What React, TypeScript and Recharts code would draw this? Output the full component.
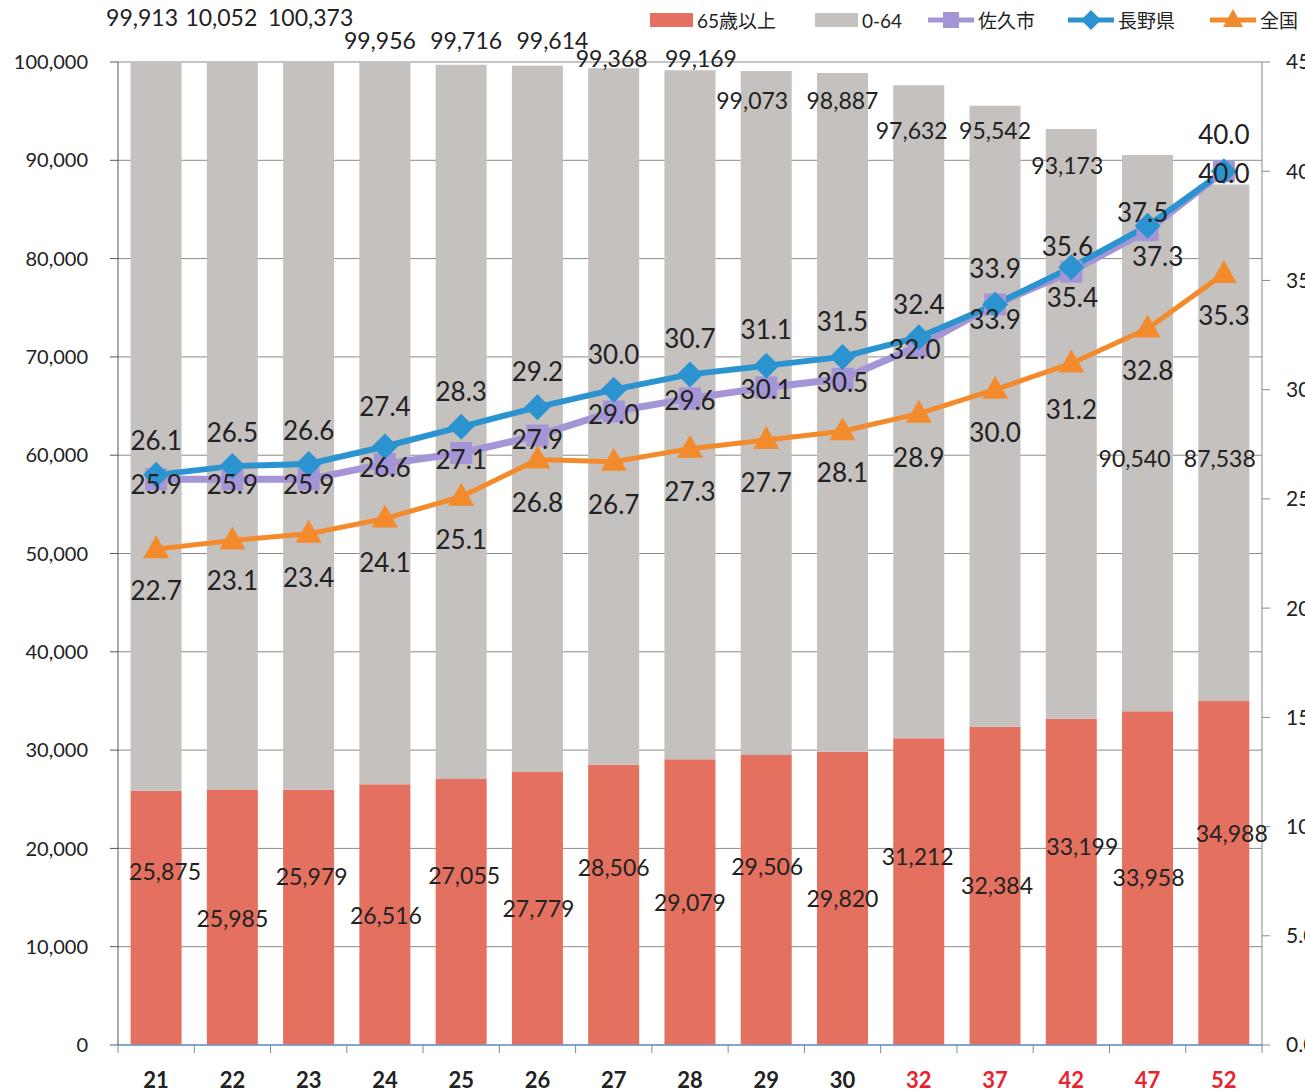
import React from "react";
import {
  ComposedChart,
  Bar,
  Line,
  XAxis,
  YAxis,
  CartesianGrid,
  LabelList,
} from "recharts";

// 年度 (H21〜H30 実績, H32〜H52 推計)
const YEARS = ["21", "22", "23", "24", "25", "26", "27", "28", "29", "30", "32", "37", "42", "47", "52"];
const PROJECTED_YEARS = ["32", "37", "42", "47", "52"];

// 人口
const POP_65_OVER = [25875, 25985, 25979, 26516, 27055, 27779, 28506, 29079, 29506, 29820, 31212, 32384, 33199, 33958, 34988];
const POP_0_64 = [74038, 74067, 74394, 73440, 72661, 71835, 70862, 70090, 69567, 69067, 66420, 63158, 59974, 56582, 52550];
// total labels as printed on the chart (22 reads "10,052" in the source)
const POP_TOTAL = [99913, 10052, 100373, 99956, 99716, 99614, 99368, 99169, 99073, 98887, 97632, 95542, 93173, 90540, 87538];

// 高齢化率 (%)
const SAKU = [25.9, 25.9, 25.9, 26.6, 27.1, 27.9, 29.0, 29.6, 30.1, 30.5, 32.0, 33.9, 35.4, 37.3, 40.0];
const NAGANO = [26.1, 26.5, 26.6, 27.4, 28.3, 29.2, 30.0, 30.7, 31.1, 31.5, 32.4, 33.9, 35.6, 37.5, 40.0];
const ZENKOKU = [22.7, 23.1, 23.4, 24.1, 25.1, 26.8, 26.7, 27.3, 27.7, 28.1, 28.9, 30.0, 31.2, 32.8, 35.3];

const LEFT_TICKS = [0, 10000, 20000, 30000, 40000, 50000, 60000, 70000, 80000, 90000, 100000];
const RIGHT_TICKS = [0, 5, 10, 15, 20, 25, 30, 35, 40, 45];

const data = YEARS.map((year, i) => ({
  year,
  over65: POP_65_OVER[i],
  under65: POP_0_64[i],
  total: POP_TOTAL[i],
  saku: SAKU[i],
  nagano: NAGANO[i],
  zenkoku: ZENKOKU[i],
}));

// colours
const RED = "#e4705f";
const GRAY = "#c4c1bf";
const PURPLE = "#a496d6";
const BLUE = "#2b93cf";
const ORANGE = "#f38b2c";
const TEXT = "#222";
const FONT = "Lato, 'Noto Sans CJK JP', sans-serif";

// label placement (hand-placed in the original)
const TOTAL_LABEL_Y = [17, 17, 17, 40, 40, 40, 58, 58, 100, 100, 130, 130, 165, 458, 458];
const TOTAL_LABEL_DX = [-14, -11, 2, -5, 5, 15, -2, 11, -14, 0, -7, 0, -4, -13, -4];
const ELDER_LABEL_Y = [871, 918, 876, 915, 875, 908, 867, 902, 866, 898, 856, 885, 846, 877, 833];
const ELDER_LABEL_DX = [9, 0, 3, 1, 3, 1, 0, 0, 1, 0, -1, 2, 11, 1, 8];
const SAKU_DY = [5, 5, 5, 3, 6, 3, 2, 2, 2, 3, 3, 15, 25, 26, 2];
const SAKU_DX = [0, 0, 0, 0, 0, 0, 0, 0, 0, 0, -4, 0, 1, 10, 0];
const NAGANO_DY = [-35, -34, -34, -40, -36, -36, -36, -36, -37, -36, -33, -36, -21, -14, -37];
const NAGANO_DX = [0, 0, 0, 0, 0, 0, 0, 0, 0, 0, 0, 0, -4, -5, 0];
const ZENKOKU_DY = [41, 40, 43, 43, 42, 42, 42, 42, 42, 41, 43, 42, 46, 41, 41];

const CHART_W = 1360;
const PLOT_LEFT = 118;
const PLOT_RIGHT = 1262;
const HALF_BAND = (PLOT_RIGHT - PLOT_LEFT) / YEARS.length / 2;

const XTick = (props: any) => {
  const { x, y, payload, index } = props;
  const red = PROJECTED_YEARS.includes(payload.value);
  return (
    <g>
      <line x1={x - HALF_BAND} x2={x - HALF_BAND} y1={y} y2={y + 8} stroke="#6c8fb3" />
      {index === YEARS.length - 1 && (
        <line x1={x + HALF_BAND} x2={x + HALF_BAND} y1={y} y2={y + 8} stroke="#6c8fb3" />
      )}
      <text
        x={x}
        y={y + 34}
        textAnchor="middle"
        dominantBaseline="central"
        fontSize={22}
        fontWeight="bold"
        fontFamily={FONT}
        fill={red ? "#e8232e" : TEXT}
      >
        {payload.value}
      </text>
    </g>
  );
};

const SquareDot = (props: any) => {
  const { cx, cy, index } = props;
  if (cx == null || cy == null) return null;
  return <rect key={`sq-${index}`} x={cx - 11} y={cy - 11} width={22} height={22} fill={PURPLE} />;
};

const DiamondDot = (props: any) => {
  const { cx, cy, index } = props;
  if (cx == null || cy == null) return null;
  return (
    <polygon
      key={`dm-${index}`}
      points={`${cx},${cy - 13} ${cx + 13},${cy} ${cx},${cy + 13} ${cx - 13},${cy}`}
      fill={BLUE}
    />
  );
};

const TriangleDot = (props: any) => {
  const { cx, cy, index } = props;
  if (cx == null || cy == null) return null;
  return (
    <polygon
      key={`tr-${index}`}
      points={`${cx},${cy - 14} ${cx + 13},${cy + 9} ${cx - 13},${cy + 9}`}
      fill={ORANGE}
    />
  );
};

const rateLabel = (dyList: number[], dxList?: number[]) => (props: any) => {
  const { x, y, value, index } = props;
  return (
    <text
      x={x + (dxList ? dxList[index] : 0)}
      y={y + dyList[index]}
      textAnchor="middle"
      dominantBaseline="central"
      fontSize={26}
      fontFamily={FONT}
      fill={TEXT}
    >
      {Number(value).toFixed(1)}
    </text>
  );
};

const elderLabel = (props: any) => {
  const { x, width, value, index } = props;
  return (
    <text
      x={x + width / 2 + ELDER_LABEL_DX[index]}
      y={ELDER_LABEL_Y[index]}
      textAnchor="middle"
      dominantBaseline="central"
      fontSize={23}
      fontFamily={FONT}
      fill={TEXT}
    >
      {Number(value).toLocaleString("en-US")}
    </text>
  );
};

const totalLabel = (props: any) => {
  const { x, width, index } = props;
  return (
    <text
      x={x + width / 2 + TOTAL_LABEL_DX[index]}
      y={TOTAL_LABEL_Y[index]}
      textAnchor="middle"
      dominantBaseline="central"
      fontSize={23}
      fontFamily={FONT}
      fill={TEXT}
    >
      {POP_TOTAL[index].toLocaleString("en-US")}
    </text>
  );
};

// legend (top right, the last item runs off the picture edge)
const LEGEND = [
  { name: "65歳以上", color: RED, kind: "box", x: 650 },
  { name: "0-64", color: GRAY, kind: "box", x: 815 },
  { name: "佐久市", color: PURPLE, kind: "square", x: 928 },
  { name: "長野県", color: BLUE, kind: "diamond", x: 1068 },
  { name: "全国", color: ORANGE, kind: "triangle", x: 1210 },
];

const Legend = () => (
  <svg width={1305} height={42} style={{ position: "absolute", left: 0, top: 0 }}>
    {LEGEND.map((item) => {
      const cy = 20;
      const mx = item.x + 23;
      let icon: React.ReactNode = null;
      if (item.kind === "box") {
        icon = <rect x={item.x} y={cy - 7} width={43} height={14} fill={item.color} />;
      } else {
        let marker: React.ReactNode;
        if (item.kind === "square") {
          marker = <rect x={mx - 8} y={cy - 8} width={16} height={16} fill={item.color} />;
        } else if (item.kind === "diamond") {
          marker = (
            <polygon
              points={`${mx},${cy - 10} ${mx + 10},${cy} ${mx},${cy + 10} ${mx - 10},${cy}`}
              fill={item.color}
            />
          );
        } else {
          marker = (
            <polygon
              points={`${mx},${cy - 11} ${mx + 10},${cy + 7} ${mx - 10},${cy + 7}`}
              fill={item.color}
            />
          );
        }
        icon = (
          <g>
            <line x1={item.x} x2={item.x + 46} y1={cy} y2={cy} stroke={item.color} strokeWidth={5} />
            {marker}
          </g>
        );
      }
      return (
        <g key={item.name}>
          {icon}
          <text
            x={item.x + (item.kind === "box" ? 47 : 50)}
            y={cy}
            dominantBaseline="central"
            fontSize={19}
            fontFamily={FONT}
            fill={TEXT}
          >
            {item.name}
          </text>
        </g>
      );
    })}
  </svg>
);

export default function App() {
  return (
    <div
      style={{
        position: "absolute",
        left: 0,
        top: 0,
        width: 1305,
        height: 1092,
        overflow: "hidden",
        background: "#fff",
        fontFamily: FONT,
      }}
    >
      <ComposedChart
        width={CHART_W}
        height={1092}
        data={data}
        margin={{ top: 62, right: CHART_W - PLOT_RIGHT - 60, bottom: 0, left: 0 }}
        barCategoryGap="16.5%"
      >
        <CartesianGrid vertical={false} stroke="#8a8a8a" strokeWidth={1} yAxisId="left" />
        <XAxis
          dataKey="year"
          interval={0}
          height={47}
          tickSize={0}
          tickMargin={0}
          tickLine={false}
          tick={<XTick />}
          axisLine={{ stroke: "#6c9bd0", strokeWidth: 1.5 }}
        />
        <YAxis
          yAxisId="left"
          width={PLOT_LEFT}
          domain={[0, 100000]}
          allowDataOverflow
          ticks={LEFT_TICKS}
          tickFormatter={(v) => Number(v).toLocaleString("en-US")}
          tickSize={8}
          tickMargin={22}
          tick={{ fontSize: 20, fill: TEXT, fontFamily: FONT }}
          axisLine={{ stroke: "#555" }}
          tickLine={{ stroke: "#555" }}
        />
        <YAxis
          yAxisId="right"
          orientation="right"
          width={60}
          domain={[0, 45]}
          ticks={RIGHT_TICKS}
          tickFormatter={(v) => Number(v).toFixed(1)}
          tickSize={8}
          tickMargin={16}
          tick={{ fontSize: 21, fill: TEXT, fontFamily: FONT }}
          axisLine={{ stroke: "#888" }}
          tickLine={{ stroke: "#888" }}
        />
        <Bar yAxisId="left" dataKey="over65" stackId="pop" fill={RED} isAnimationActive={false}>
          <LabelList dataKey="over65" content={elderLabel} />
        </Bar>
        <Bar yAxisId="left" dataKey="under65" stackId="pop" fill={GRAY} isAnimationActive={false}>
          <LabelList dataKey="total" content={totalLabel} />
        </Bar>
        <Line
          yAxisId="right"
          dataKey="saku"
          stroke={PURPLE}
          strokeWidth={7}
          dot={<SquareDot />}
          activeDot={false}
          isAnimationActive={false}
        >
          <LabelList dataKey="saku" content={rateLabel(SAKU_DY, SAKU_DX)} />
        </Line>
        <Line
          yAxisId="right"
          dataKey="nagano"
          stroke={BLUE}
          strokeWidth={6}
          dot={<DiamondDot />}
          activeDot={false}
          isAnimationActive={false}
        >
          <LabelList dataKey="nagano" content={rateLabel(NAGANO_DY, NAGANO_DX)} />
        </Line>
        <Line
          yAxisId="right"
          dataKey="zenkoku"
          stroke={ORANGE}
          strokeWidth={5}
          dot={<TriangleDot />}
          activeDot={false}
          isAnimationActive={false}
        >
          <LabelList dataKey="zenkoku" content={rateLabel(ZENKOKU_DY)} />
        </Line>
      </ComposedChart>
      <Legend />
    </div>
  );
}
